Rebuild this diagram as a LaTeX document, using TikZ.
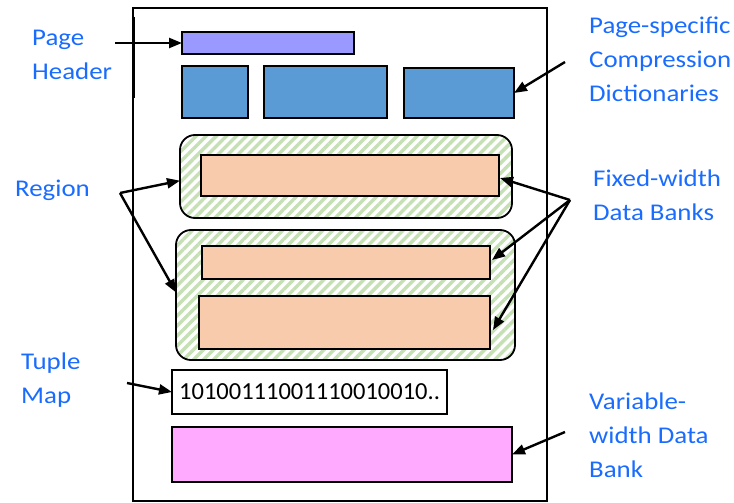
\documentclass[tikz,border=0pt]{standalone}
\usepackage{fontspec}
\setmainfont{Carlito}
\newfontfamily\labelfont{Carlito}[FakeStretch=1.12]
\usetikzlibrary{arrows.meta,patterns.meta,calc}
\definecolor{lblue}{RGB}{26,108,255}
\definecolor{hdrfill}{RGB}{153,153,255}
\definecolor{dictfill}{RGB}{91,155,213}
\definecolor{bankfill}{RGB}{248,203,173}
\definecolor{varfill}{RGB}{255,170,255}
\definecolor{hatch}{RGB}{197,224,180}
\tikzset{
  box/.style={draw=black, line width=1.8pt, rectangle, inner sep=0pt, outer sep=0pt, anchor=north west},
  region/.style={draw=black, line width=1.8pt, rounded corners=15pt, inner sep=0pt, outer sep=0pt, anchor=north west,
    pattern={Lines[angle=45,distance=7.1pt,line width=3.4pt]}, pattern color=hatch},
  lbl/.style={text=lblue, font=\labelfont\fontsize{24}{34}\selectfont, align=left, anchor=west, inner sep=0pt},
  arr/.style={line width=2.4pt, -{Triangle[length=13pt,width=10pt]}},
}
\begin{document}
\begin{tikzpicture}[x=1pt,y=-1pt]
\useasboundingbox (0,0) rectangle (734,503);

% page outline
\node[box, line width=2.2pt, minimum width=414pt, minimum height=493pt] (page) at (133,8) {};
\draw[line width=1.4pt] (134.5,17) -- (134.5,98);

% header and dictionaries
\node[box, fill=hdrfill, minimum width=172pt, minimum height=22pt] (hdr) at (182,32) {};
\node[box, fill=dictfill, minimum width=66pt, minimum height=52pt] (dict1) at (182,66) {};
\node[box, fill=dictfill, minimum width=123pt, minimum height=52pt] (dict2) at (264,66) {};
\node[box, fill=dictfill, minimum width=110pt, minimum height=50pt] (dict3) at (404,68) {};

% regions with fixed-width banks
\node[region, minimum width=332pt, minimum height=83pt] (reg1) at (180,135) {};
\node[box, fill=bankfill, minimum width=298pt, minimum height=41pt] (bank1) at (201,155) {};
\node[region, minimum width=339pt, minimum height=130pt] (reg2) at (176,230) {};
\node[box, fill=bankfill, minimum width=288pt, minimum height=33pt] (bank2) at (202,246) {};
\node[box, fill=bankfill, minimum width=291pt, minimum height=53pt] (bank3) at (199,296) {};

% tuple map and variable-width bank
\node[box, fill=white, minimum width=275pt, minimum height=44pt, line width=1.4pt] (tmap) at (172,370) {};
\node[font=\fontsize{24.5}{30}\selectfont, inner sep=0pt, anchor=west] (bits) at (179,392) {10100111001110010010..};
\node[box, fill=varfill, minimum width=340pt, minimum height=55pt] (var) at (172,427) {};

% labels
\node[lbl] (lhdr) at (32,55) {Page\\Header};
\node[lbl] (ldict) at (589,59) {Page-specific\\Compression\\Dictionaries};
\node[lbl] (lreg) at (15,190) {Region};
\node[lbl] (lbank) at (593,195) {Fixed-width\\Data Banks};
\node[lbl] (ltup) at (21,380) {Tuple\\Map};
\node[lbl] (lvar) at (589,435) {Variable-\\width Data\\Bank};

% arrow tails
\coordinate (thdr) at (115,43);
\coordinate (tdict) at (565,62);
\coordinate (treg) at (120,193);
\coordinate (tbank) at (570,200);
\coordinate (ttup) at (127,383);
\coordinate (tvar) at (565,432);

% connectors
\draw[arr] (thdr) -- (hdr.west);
\draw[arr] (tdict) -- ($(dict3.north east)!0.5!(dict3.south east)$);
\draw[arr] (treg) -- ($(reg1.north west)!0.55!(reg1.south west)$);
\draw[arr] (treg) -- ($(reg2.north west)!0.48!(reg2.south west)$);
\draw[arr] (tbank) -- ($(bank1.north east)+(1,23)$);
\draw[arr] (tbank) -- ($(bank2.north east)+(2,14)$);
\draw[arr] (tbank) -- ($(bank3.north east)+(3,34)$);
\draw[arr] (ttup) -- (tmap.west);
\draw[arr] (tvar) -- (var.east);
\end{tikzpicture}
\end{document}
